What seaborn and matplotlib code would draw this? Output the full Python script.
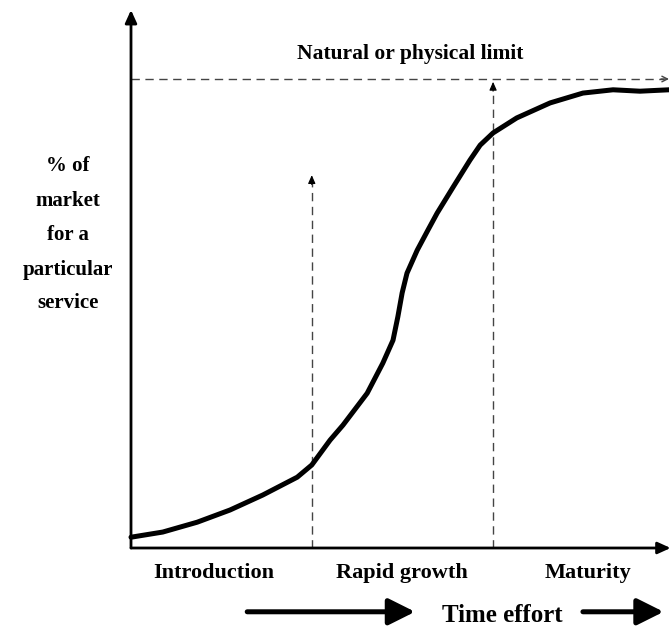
import numpy as np
import pandas as pd
import matplotlib
matplotlib.use("Agg")
import matplotlib.pyplot as plt
import seaborn as sns


# 1. DATA (time effort 0-100, market share 0-100 where 100 = natural limit)

time_pts = [0.0, 5.9, 12.3, 18.4, 24.5, 30.9, 33.6, 37.0, 39.4, 43.9,
            46.8, 48.7, 49.6, 50.4, 51.3, 53.2, 55.2, 56.9, 59.9, 63.0,
            64.9, 67.3, 71.7, 77.9, 84.0, 89.6, 94.6, 100.0]
share_pts = [2.3, 3.4, 5.5, 8.1, 11.3, 15.1, 17.7, 23.0, 26.2, 33.0,
             39.4, 44.3, 49.3, 54.4, 58.6, 63.5, 67.8, 71.4, 77.0, 82.7,
             85.9, 88.5, 91.7, 94.9, 97.0, 97.7, 97.4, 97.7]

limit_level = 100.0
stage_bounds = [33.6, 67.3]        # vertical dashed markers
stage_tops = [79.5, 99.4]
stage_labels = ["Introduction", "Rapid growth", "Maturity"]
stage_centers = [15.4, 50.4, 84.9]

ylabel_lines = ["% of", "market", "for a", "particular", "service"]
ylabel_ypos = [80.4, 73.0, 65.7, 58.3, 51.2]

curve = pd.DataFrame({"time": time_pts, "share": share_pts})


# 2. STYLE

sns.set_theme(style="white")
plt.rcParams["font.family"] = ["Liberation Serif", "DejaVu Serif"]
plt.rcParams["font.weight"] = "bold"
plt.rcParams["text.color"] = "black"

fig = plt.figure(figsize=(6.69, 6.28), dpi=100)
ax = fig.add_axes([131 / 669, 80 / 628, 538 / 669, 538 / 628])
ax.set_xlim(0, 100)
ax.set_ylim(0, 538 / 4.69)
ax.set_axis_off()

dash_kw = dict(color="#444444", lw=1.0, linestyle=(0, (6, 4)))


# 3. AXES WITH ARROWS

ax.annotate("", xy=(0, ax.get_ylim()[1]), xytext=(0, 0),
            arrowprops=dict(arrowstyle="-|>,head_length=0.55,head_width=0.25",
                            color="black", lw=2.0, mutation_scale=14,
                            shrinkA=0, shrinkB=0), annotation_clip=False)
ax.annotate("", xy=(100.3, 0), xytext=(0, 0),
            arrowprops=dict(arrowstyle="-|>,head_length=0.55,head_width=0.25",
                            color="black", lw=2.0, mutation_scale=14,
                            shrinkA=0, shrinkB=0), annotation_clip=False)


# 4. LIMIT LINE AND STAGE MARKERS

ax.plot([0, 99], [limit_level, limit_level], **dash_kw, clip_on=False)
ax.annotate("", xy=(100, limit_level), xytext=(98.5, limit_level),
            arrowprops=dict(arrowstyle="->,head_length=0.4,head_width=0.2",
                            color="#444444", lw=1.0, mutation_scale=10,
                            shrinkA=0, shrinkB=0), annotation_clip=False)

for xb, top in zip(stage_bounds, stage_tops):
    ax.plot([xb, xb], [0, top - 1.5], **dash_kw)
    ax.annotate("", xy=(xb, top), xytext=(xb, top - 2.0),
                arrowprops=dict(arrowstyle="-|>,head_length=0.5,head_width=0.22",
                                color="black", lw=0.8, mutation_scale=10,
                                shrinkA=0, shrinkB=0))


# 5. S-CURVE

sns.lineplot(data=curve, x="time", y="share", sort=False, ax=ax,
             color="black", lw=3.6, solid_joinstyle="round",
             solid_capstyle="round", clip_on=False)


# 6. TEXT

ax.text(51.9, 104.3, "Natural or physical limit", ha="center", va="baseline",
        fontsize=15.5, fontweight="bold", color="black")

for lab, yy in zip(ylabel_lines, ylabel_ypos):
    ax.text(-11.7, yy, lab, ha="center", va="baseline", fontsize=15,
            fontweight="bold", color="black", clip_on=False)

for lab, xx in zip(stage_labels, stage_centers):
    ax.text(xx, -6.4, lab, ha="center", va="baseline", fontsize=16,
            fontweight="bold", color="black", clip_on=False)

ax.text(69.0, -15.8, "Time effort", ha="center", va="baseline", fontsize=18,
        fontweight="bold", color="black", clip_on=False)

big_arrow = dict(arrowstyle="-|>,head_length=0.8,head_width=0.4",
                 color="black", lw=3.6, mutation_scale=20,
                 shrinkA=0, shrinkB=0)
ax.annotate("", xy=(52.8, -13.6), xytext=(21.6, -13.6),
            arrowprops=big_arrow, annotation_clip=False)
ax.annotate("", xy=(99.0, -13.6), xytext=(84.0, -13.6),
            arrowprops=big_arrow, annotation_clip=False)

fig.savefig("out.png", dpi=100)
plt.close(fig)
